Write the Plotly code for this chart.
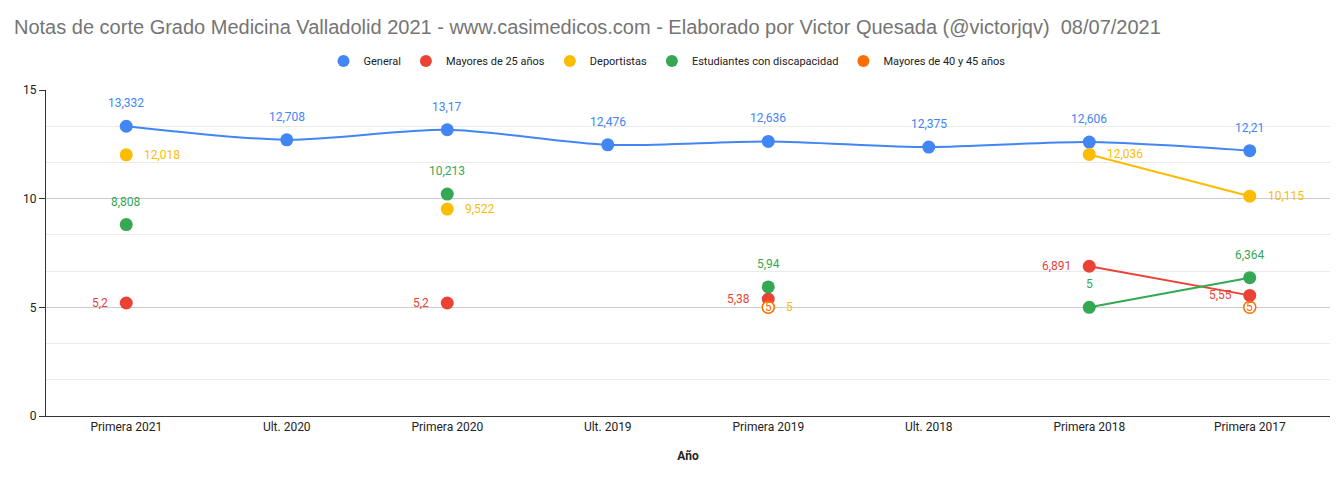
import plotly.graph_objects as go

categories = ["Primera 2021", "Ult. 2020", "Primera 2020", "Ult. 2019",
              "Primera 2019", "Ult. 2018", "Primera 2018", "Primera 2017"]
general = [13.332, 12.708, 13.17, 12.476, 12.636, 12.375, 12.606, 12.21]
mayores25 = [5.2, None, 5.2, None, 5.38, None, 6.891, 5.55]
deportistas = [12.018, None, 9.522, None, 5, None, 12.036, 10.115]
discapacidad = [8.808, None, 10.213, None, 5.94, None, 5, 6.364]
mayores4045 = [None, None, None, None, 5, None, None, 5]

def fmt(v):
    s = ("%.3f" % v).rstrip("0").rstrip(".")
    return s.replace(".", ",")

FONT = "Roboto, Arial, sans-serif"
fig = go.Figure()

series = [
    ("General", general, "#4285F4", "above", "spline"),
    ("Mayores de 25 años", mayores25, "#EA4335", "left", "linear"),
    ("Deportistas", deportistas, "#FBBC04", "right", "linear"),
    ("Estudiantes con discapacidad", discapacidad, "#34A853", "above", "linear"),
]

for name, vals, color, pos, shape in series:
    fig.add_trace(go.Scatter(
        x=categories, y=vals, name=name, mode="lines+markers",
        line=dict(color=color, width=2, shape=shape, smoothing=0.8),
        marker=dict(size=13, color=color),
        connectgaps=False, cliponaxis=False, showlegend=False,
    ))

# orange series: ring marker with centred label
fig.add_trace(go.Scatter(
    x=categories, y=mayores4045, name="Mayores de 40 y 45 años",
    mode="markers",
    marker=dict(size=12, color="white", symbol="circle",
                line=dict(color="#FF6D01", width=1.5)),
    cliponaxis=False, showlegend=False,
))

# labels
for name, vals, color, pos, shape in series:
    for c, v in zip(categories, vals):
        if v is None:
            continue
        kw = dict(x=c, y=v, text=fmt(v), showarrow=False,
                  font=dict(color=color, size=12, family=FONT))
        if pos == "above":
            kw.update(yshift=23, xanchor="center", yanchor="middle")
        elif pos == "left":
            kw.update(xshift=-16, xanchor="right", yanchor="middle")
        else:
            kw.update(xshift=16, xanchor="left", yanchor="middle")
        fig.add_annotation(**kw)
for c, v in zip(categories, mayores4045):
    if v is None:
        continue
    fig.add_annotation(x=c, y=v, text=fmt(v), showarrow=False,
                       xanchor="center", yanchor="middle",
                       font=dict(color="#FF6D01", size=12, family=FONT))

# legend entries (markers only)
for name, color in [("General", "#4285F4"), ("Mayores de 25 años", "#EA4335"),
                    ("Deportistas", "#FBBC04"), ("Estudiantes con discapacidad", "#34A853"),
                    ("Mayores de 40 y 45 años", "#FF6D01")]:
    fig.add_trace(go.Scatter(x=[None], y=[None], name=name, mode="markers",
                             marker=dict(size=12, color=color), showlegend=True))

fig.update_layout(
    width=1344, height=482,
    margin=dict(l=38, r=22, t=82, b=74, autoexpand=False),
    plot_bgcolor="white", paper_bgcolor="white",
    font=dict(family=FONT, size=12, color="#222222"),
    title=dict(text="Notas de corte Grado Medicina Valladolid 2021 - www.casimedicos.com - Elaborado por Victor Quesada (@victorjqv)  08/07/2021",
               x=6/1344, xref="container", xanchor="left",
               y=1-19/482, yref="container", yanchor="middle",
               font=dict(size=20, color="#757575", family="Arial, sans-serif")),
    legend=dict(orientation="h", x=0.5-21/1284, xanchor="center", y=1+29/326, yanchor="middle",
                font=dict(size=11, color="#222222", family=FONT),
                traceorder="normal", itemwidth=30),
    showlegend=True,
)
fig.update_xaxes(
    type="category", range=[-0.5, 7.5], showgrid=False,
    showline=True, linecolor="#333333", linewidth=1,
    ticks="", tickfont=dict(size=12, color="#222222"),
    title=dict(text="<b>Año</b>", font=dict(size=12, color="#222222"), standoff=18),
)
fig.update_yaxes(
    range=[0, 15], tickvals=[0, 5, 10, 15], ticktext=["0", "5", "10", "15"],
    showgrid=True, gridcolor="#cccccc", gridwidth=1,
    showline=True, linecolor="#333333", linewidth=1,
    ticks="outside", ticklen=6, tickcolor="#333333",
    tickfont=dict(size=12, color="#222222"),
    zeroline=False,
    minor=dict(tickvals=[5/3, 10/3, 20/3, 25/3, 35/3, 40/3], showgrid=True,
               gridcolor="#ebebeb", gridwidth=1, ticks=""),
)
fig.write_html("out.html")
